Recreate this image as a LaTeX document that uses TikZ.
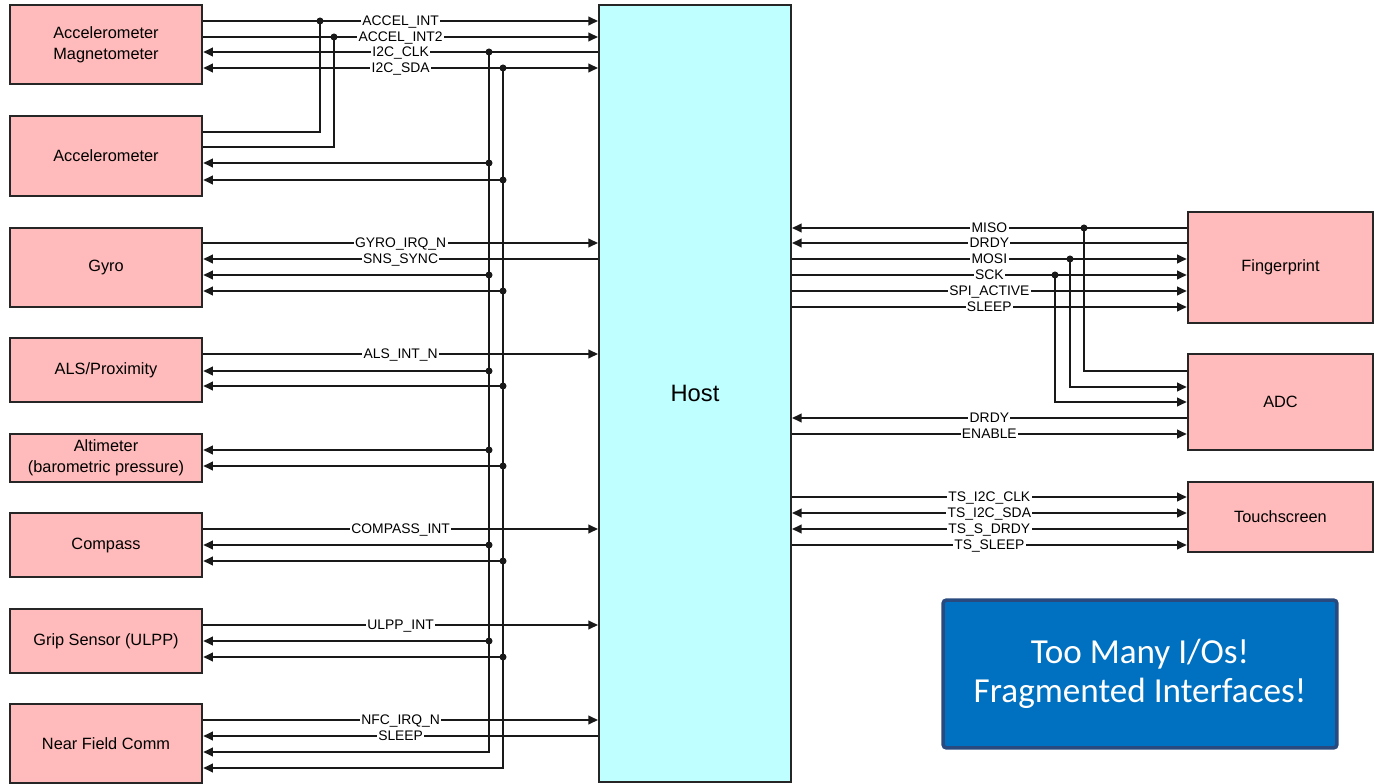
\documentclass[tikz,border=0pt]{standalone}
\usepackage{fontspec}
\setmainfont{Liberation Sans}
\newfontfamily\notefont{Carlito}
\usetikzlibrary{arrows.meta}

\definecolor{devpink}{RGB}{255,187,187}
\definecolor{hostcyan}{RGB}{192,255,255}
\definecolor{noteblue}{RGB}{0,112,192}
\definecolor{noteedge}{RGB}{40,74,126}

\begin{document}
\begin{tikzpicture}[
		x=0.02cm, y=-0.02cm,
		>={Triangle[length=5.5pt, width=5pt]},
		% Peripheral boxes (fixed width, height given as argument)
		devbox/.style={
				rectangle, draw=black!85, line width=1.5pt, fill=devpink,
				minimum width=3.84cm, minimum height=#1, inner sep=0pt,
				align=center, font=\fontsize{9.3}{12}\selectfont
			},
		% Host block
		hostbox/.style={
				rectangle, draw=black!85, line width=1.2pt, fill=hostcyan,
				minimum width=3.84cm, minimum height=15.54cm,
				font=\fontsize{13.5}{16}\selectfont
			},
		% Callout
		notebox/.style={
				rectangle, rounded corners=2pt, draw=noteedge, line width=2pt,
				fill=noteblue, text=white, minimum width=7.88cm, minimum height=2.96cm,
				align=center, font=\notefont\fontsize{20}{22}\selectfont
			},
		% Signals
		sig/.style={line width=0.9pt, draw=black!90},
		siglab/.style={fill=white, inner xsep=0.8pt, inner ysep=0.4pt, text height=5.7pt, text depth=0.6pt,
				font=\fontsize{7.9}{9}\selectfont},
		jdot/.style={fill=black!90}
	]
	\useasboundingbox (0,0) rectangle (1374,784);

	% ==========================================
	% 1. HOST AND PERIPHERALS
	% ==========================================

	\node[hostbox] (host) at (695, 393.5) {Host};

	% Left column (X=106)
	\node[devbox=1.58cm] (accmag) at (106, 44.5) {Accelerometer\\Magnetometer};
	\node[devbox=1.60cm] (accel) at (106, 156) {Accelerometer};
	\node[devbox=1.58cm] (gyro) at (106, 267.5) {Gyro};
	\node[devbox=1.28cm] (als) at (106, 370) {ALS/Proximity};
	\node[devbox=0.96cm] (alti) at (106, 458) {Altimeter\\(barometric pressure)};
	\node[devbox=1.28cm] (compass) at (106, 545) {Compass};
	\node[devbox=1.28cm] (grip) at (106, 641) {Grip Sensor (ULPP)};
	\node[devbox=1.58cm] (nfc) at (106, 743.5) {Near Field Comm};

	% Right column (X=1280)
	\node[devbox=2.22cm, minimum width=3.7cm] (finger) at (1280.5, 267.5) {Fingerprint};
	\node[devbox=1.92cm, minimum width=3.7cm] (adc) at (1280.5, 402) {ADC};
	\node[devbox=1.40cm, minimum width=3.7cm] (touch) at (1280.5, 517) {Touchscreen};

	\node[notebox] (note) at (1140, 674) {Too Many I/Os!\\Fragmented Interfaces!};

	% ==========================================
	% 2. LEFT SIGNALS
	% ==========================================

	\draw[sig, ->] (accmag.east |- 0,21) -- node[siglab] {ACCEL\_INT} (host.west |- 0,21);
	\draw[sig, ->] (accmag.east |- 0,37) -- node[siglab] {ACCEL\_INT2} (host.west |- 0,37);
	\draw[sig, <-] (accmag.east |- 0,52) -- node[siglab] {I2C\_CLK} (host.west |- 0,52);
	\draw[sig, <->] (accmag.east |- 0,68) -- node[siglab] {I2C\_SDA} (host.west |- 0,68);

	% Second accelerometer shares the interrupt lines
	\draw[sig] (accel.east |- 0,132) -| (320,21);
	\draw[sig] (accel.east |- 0,147) -| (334,37);
	\fill[jdot] (320,21) circle (2pt) (334,37) circle (2pt);

	\draw[sig, ->] (gyro.east |- 0,243) -- node[siglab] {GYRO\_IRQ\_N} (host.west |- 0,243);
	\draw[sig, <-] (gyro.east |- 0,259) -- node[siglab] {SNS\_SYNC} (host.west |- 0,259);
	\draw[sig, ->] (als.east |- 0,354) -- node[siglab] {ALS\_INT\_N} (host.west |- 0,354);
	\draw[sig, ->] (compass.east |- 0,529) -- node[siglab] {COMPASS\_INT} (host.west |- 0,529);
	\draw[sig, ->] (grip.east |- 0,625) -- node[siglab] {ULPP\_INT} (host.west |- 0,625);
	\draw[sig, ->] (nfc.east |- 0,720) -- node[siglab] {NFC\_IRQ\_N} (host.west |- 0,720);
	\draw[sig, <-] (nfc.east |- 0,736) -- node[siglab] {SLEEP} (host.west |- 0,736);

	% Shared I2C bus
	\coordinate (clkbus) at (489,52);
	\coordinate (sdabus) at (503,68);
	\draw[sig, ->] (clkbus) |- (nfc.east |- 0,752);
	\draw[sig, ->] (sdabus) |- (nfc.east |- 0,768);
	\fill[jdot] (clkbus) circle (2pt) (sdabus) circle (2pt);
	\foreach \dev/\yc/\yd in {accel/163/180, gyro/275/291, als/371/386, alti/450/466, compass/545/561, grip/641/657} {
			\draw[sig, <-] (\dev.east |- 0,\yc) -- (clkbus |- 0,\yc);
			\draw[sig, <-] (\dev.east |- 0,\yd) -- (sdabus |- 0,\yd);
			\fill[jdot] (clkbus |- 0,\yc) circle (2pt) (sdabus |- 0,\yd) circle (2pt);
		}

	% ==========================================
	% 3. RIGHT SIGNALS
	% ==========================================

	% SPI to fingerprint
	\draw[sig, <-] (host.east |- 0,228) -- node[siglab] {MISO} (finger.west |- 0,228);
	\draw[sig, <-] (host.east |- 0,243) -- node[siglab] {DRDY} (finger.west |- 0,243);
	\draw[sig, ->] (host.east |- 0,259) -- node[siglab] {MOSI} (finger.west |- 0,259);
	\draw[sig, ->] (host.east |- 0,275) -- node[siglab] {SCK} (finger.west |- 0,275);
	\draw[sig, ->] (host.east |- 0,291) -- node[siglab] {SPI\_ACTIVE} (finger.west |- 0,291);
	\draw[sig, ->] (host.east |- 0,307) -- node[siglab] {SLEEP} (finger.west |- 0,307);

	% ADC taps the SPI lines
	\draw[sig] (adc.west |- 0,371) -| (1084,228);
	\draw[sig, ->] (1070,259) |- (adc.west |- 0,387);
	\draw[sig, ->] (1055,275) |- (adc.west |- 0,402);
	\fill[jdot] (1084,228) circle (2pt) (1070,259) circle (2pt) (1055,275) circle (2pt);
	\draw[sig, <-] (host.east |- 0,418) -- node[siglab] {DRDY} (adc.west |- 0,418);
	\draw[sig, ->] (host.east |- 0,434) -- node[siglab] {ENABLE} (adc.west |- 0,434);

	% Touchscreen
	\draw[sig, ->] (host.east |- 0,497) -- node[siglab] {TS\_I2C\_CLK} (touch.west |- 0,497);
	\draw[sig, <->] (host.east |- 0,513) -- node[siglab] {TS\_I2C\_SDA} (touch.west |- 0,513);
	\draw[sig, <-] (host.east |- 0,529) -- node[siglab] {TS\_S\_DRDY} (touch.west |- 0,529);
	\draw[sig, ->] (host.east |- 0,545) -- node[siglab] {TS\_SLEEP} (touch.west |- 0,545);

\end{tikzpicture}
\end{document}
